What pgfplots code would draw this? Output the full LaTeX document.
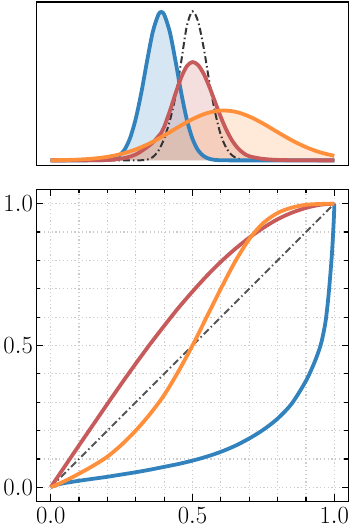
\documentclass[border=0pt]{standalone}
\usepackage{pgfplots}
\pgfplotsset{compat=1.18}
\usepackage{pgfplotstable}
\definecolor{cblue}{HTML}{3182BD}
\definecolor{cred}{HTML}{C75B5B}
\definecolor{corange}{HTML}{FF8F3A}
\definecolor{cdark}{HTML}{333333}
\definecolor{cgray}{HTML}{555555}

\pgfplotstableread{
x y
0.00 0
0.10 0
0.16 0.0003
0.18 0.001
0.20 0.003
0.22 0.010
0.24 0.030
0.26 0.070
0.28 0.150
0.30 0.280
0.32 0.458
0.34 0.668
0.36 0.862
0.38 0.979
0.39 0.995
0.40 0.979
0.42 0.862
0.44 0.668
0.46 0.456
0.48 0.274
0.50 0.145
0.52 0.067
0.54 0.028
0.56 0.010
0.58 0.003
0.60 0.001
0.64 0
0.80 0
1.00 0
}\densblue

\pgfplotstableread{
x y
0.00 0
0.20 0
0.30 0
0.32 0.001
0.34 0.005
0.36 0.022
0.38 0.065
0.40 0.145
0.42 0.265
0.44 0.43
0.46 0.66
0.48 0.90
0.50 1.0
0.52 0.93
0.54 0.75
0.56 0.52
0.58 0.32
0.60 0.17
0.62 0.08
0.64 0.033
0.66 0.012
0.68 0.004
0.70 0.001
0.74 0
0.90 0
1.00 0
}\densblack

\pgfplotstableread{
x y
0.00 0
0.10 0.0002
0.15 0.0006
0.20 0.003
0.24 0.009
0.27 0.020
0.30 0.040
0.33 0.075
0.36 0.120
0.39 0.185
0.40 0.224
0.42 0.330
0.44 0.447
0.46 0.555
0.48 0.632
0.50 0.660
0.52 0.639
0.54 0.579
0.56 0.491
0.58 0.390
0.60 0.290
0.62 0.202
0.64 0.132
0.66 0.082
0.68 0.048
0.70 0.028
0.74 0.012
0.78 0.005
0.82 0.002
0.90 0.0003
1.00 0
}\densred

\pgfplotstableread{
x y
0.00 0.0009
0.05 0.0024
0.10 0.0055
0.15 0.0119
0.20 0.0236
0.25 0.0434
0.30 0.0735
0.35 0.115
0.40 0.167
0.45 0.2237
0.50 0.2768
0.55 0.3165
0.60 0.3345
0.65 0.3267
0.70 0.2948
0.75 0.246
0.80 0.1894
0.85 0.135
0.90 0.0889
0.95 0.054
1.00 0.0304
}\densorange

\pgfplotstableread{
x y
0.00 0
0.05 0.074
0.10 0.148
0.15 0.221
0.20 0.294
0.25 0.366
0.30 0.436
0.35 0.504
0.40 0.569
0.45 0.632
0.50 0.690
0.55 0.745
0.60 0.795
0.65 0.840
0.70 0.880
0.75 0.915
0.80 0.945
0.85 0.968
0.90 0.985
0.95 0.996
1.00 1.000
}\ppred

\pgfplotstableread{
x y
0.00 0
0.05 0.022
0.10 0.048
0.15 0.076
0.20 0.108
0.25 0.150
0.30 0.200
0.35 0.258
0.40 0.325
0.45 0.408
0.50 0.500
0.55 0.600
0.60 0.700
0.65 0.795
0.70 0.875
0.75 0.932
0.80 0.967
0.85 0.986
0.90 0.996
0.95 0.999
1.00 1.000
}\pporange

\pgfplotstableread{
x y
0.00 0
0.01 0.005
0.03 0.011
0.05 0.015
0.10 0.023
0.15 0.030
0.20 0.037
0.25 0.045
0.30 0.053
0.35 0.062
0.40 0.072
0.45 0.082
0.50 0.094
0.55 0.108
0.60 0.125
0.65 0.146
0.70 0.172
0.75 0.203
0.80 0.242
0.85 0.295
0.90 0.375
0.93 0.440
0.95 0.495
0.96 0.535
0.97 0.590
0.98 0.680
0.99 0.800
0.995 0.880
0.999 0.960
1.00 1.000
}\ppblue

\begin{document}
\begin{tikzpicture}
\begin{axis}[
  at={(0,0)}, anchor=south west,
  scale only axis, width=313.5bp, height=313.5bp,
  xmin=-0.05, xmax=1.05, ymin=-0.05, ymax=1.05,
  xtick={0,0.5,1}, ytick={0,0.5,1},
  minor tick num=4,
  tick align=inside,
  major tick length=7bp, minor tick length=4bp,
  tick style={black, line width=1.2bp},
  axis line style={line width=1.5bp},
  grid=both,
  major grid style={dash pattern=on 1.2bp off 2.6bp, color=black!20, line width=1.2bp},
  minor grid style={dash pattern=on 1.2bp off 2.6bp, color=black!20, line width=1.2bp},
  tick label style={font=\fontsize{23.5}{27}\selectfont},
  yticklabel style={inner sep=3.5bp, /pgf/number format/.cd, fixed, fixed zerofill, precision=1},
  xticklabel style={inner sep=3bp, yshift=-2.5bp, /pgf/number format/.cd, fixed, fixed zerofill, precision=1},
]
\addplot[cgray, line width=2bp, dash pattern=on 7bp off 3bp on 1.5bp off 3bp] coordinates {(0,0) (1,1)};
\addplot[cblue, line width=3.8bp, smooth, line join=round] table[x=x,y=y] {\ppblue};
\addplot[cred, line width=3.8bp, smooth, line join=round] table[x=x,y=y] {\ppred};
\addplot[corange, line width=3.8bp, smooth, line join=round] table[x=x,y=y] {\pporange};
\end{axis}
\begin{axis}[
  at={(0,337.5bp)}, anchor=south west,
  scale only axis, width=313.5bp, height=164bp,
  xmin=-0.05, xmax=1.05, ymin=-0.035, ymax=1.06,
  xtick=\empty, ytick=\empty,
  axis line style={line width=1.8bp},
]
\addplot[draw=none, fill=cblue, fill opacity=0.2, smooth] table[x=x,y=y] {\densblue} \closedcycle;
\addplot[draw=none, fill=cred, fill opacity=0.2, smooth] table[x=x,y=y] {\densred} \closedcycle;
\addplot[draw=none, fill=corange, fill opacity=0.2, smooth] table[x=x,y=y] {\densorange} \closedcycle;
\addplot[cdark, line width=2bp, smooth, dash pattern=on 7bp off 3bp on 1.5bp off 3bp] table[x=x,y=y] {\densblack};
\addplot[cblue, line width=3.8bp, smooth, line join=round] table[x=x,y=y] {\densblue};
\addplot[cred, line width=3.8bp, smooth, line join=round] table[x=x,y=y] {\densred};
\addplot[corange, line width=3.8bp, smooth, line join=round] table[x=x,y=y] {\densorange};
\end{axis}
\path ([yshift=1.5bp]current bounding box.north) ([yshift=-2bp]current bounding box.south);
\end{tikzpicture}
\end{document}
